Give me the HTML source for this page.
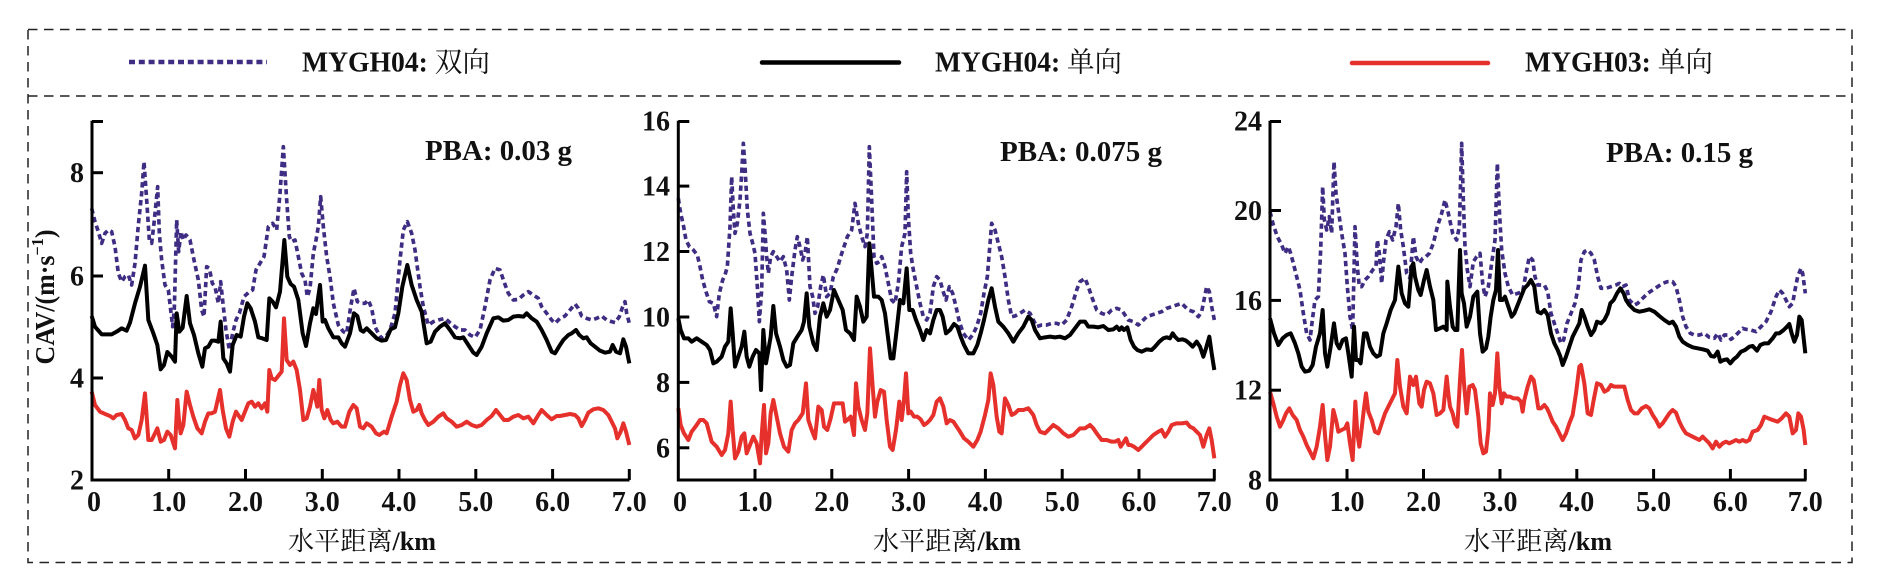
<!DOCTYPE html>
<html>
<head>
<meta charset="utf-8">
<style>
  html, body { margin: 0; padding: 0; background: #fff; }
  svg { display: block; }
  .tick { font-family: "Liberation Serif", serif; font-weight: bold; font-size: 28px; fill: #111; }
</style>
</head>
<body>
<svg width="1891" height="586" viewBox="0 0 1891 586" xmlns="http://www.w3.org/2000/svg">
  <rect x="0" y="0" width="1891" height="586" fill="#fff"/>

  <!-- Dashed frame -->
  <g stroke="#222" stroke-width="1.5" fill="none" stroke-dasharray="9.5 6.5">
    <rect x="28" y="29.5" width="1824" height="533"/>
    <line x1="28" y1="96" x2="1852" y2="96"/>
  </g>

  <!-- Legend -->
  <line x1="129" y1="62" x2="267" y2="62" stroke="#3f2d84" stroke-width="4.5" stroke-dasharray="6 3.8"/>
  <text x="302" y="71.7" textLength="188" lengthAdjust="spacingAndGlyphs" font-size="28" fill="#111"><tspan font-family="Liberation Serif, serif" font-weight="bold">MYGH04: </tspan><tspan font-family="Noto Serif CJK SC, Noto Sans CJK SC, serif">双向</tspan></text>

  <line x1="762" y1="62.5" x2="899" y2="62.5" stroke="#000" stroke-width="4.5" stroke-linecap="round"/>
  <text x="935" y="71.7" textLength="187" lengthAdjust="spacingAndGlyphs" font-size="28" fill="#111"><tspan font-family="Liberation Serif, serif" font-weight="bold">MYGH04: </tspan><tspan font-family="Noto Serif CJK SC, Noto Sans CJK SC, serif">单向</tspan></text>

  <line x1="1352" y1="63" x2="1488" y2="63" stroke="#e5302c" stroke-width="4.5" stroke-linecap="round"/>
  <text x="1525" y="71.7" textLength="188" lengthAdjust="spacingAndGlyphs" font-size="28" fill="#111"><tspan font-family="Liberation Serif, serif" font-weight="bold">MYGH03: </tspan><tspan font-family="Noto Serif CJK SC, Noto Sans CJK SC, serif">单向</tspan></text>

  <!-- Y axis label -->
  <text transform="translate(54,297) rotate(-90)" text-anchor="middle" font-family="Liberation Serif, serif" font-weight="bold" font-size="27" fill="#111" textLength="135" lengthAdjust="spacingAndGlyphs">CAV/(m·s<tspan font-size="17" dy="-11">−1</tspan><tspan dy="11">)</tspan></text>

  <!-- ================= PANEL 1 ================= -->
  <g transform="translate(80,100) scale(0.333333)" fill="none" stroke-linejoin="round">
    <polyline stroke="#3f2d84" stroke-width="11" stroke-dasharray="16 11" points="35,325 45,365 55,395 65,430 75,400 85,390 95,395 105,440 115,520 125,545 135,530 145,525 155,555 165,490 175,375 185,280 192,185 200,300 208,420 215,430 222,370 228,310 233,260 238,400 245,480 255,555 265,570 272,630 278,680 283,625 290,360 296,455 303,395 310,420 318,405 330,420 342,480 355,540 365,630 372,650 380,500 388,505 397,550 405,560 415,610 422,545 430,620 438,690 448,750 458,700 468,660 478,640 492,590 505,578 518,570 528,510 540,490 552,470 565,380 578,370 590,390 600,280 610,140 620,300 628,410 635,425 645,420 655,470 665,520 675,540 682,590 690,565 700,460 708,420 715,380 722,290 730,380 740,470 750,530 760,610 775,675 790,695 800,700 812,620 822,565 832,605 842,610 855,610 865,600 875,625 885,680 895,700 905,715 918,710 930,690 945,640 960,480 970,390 982,365 995,400 1005,450 1020,560 1030,620 1045,675 1060,665 1075,660 1095,655 1110,668 1125,680 1140,690 1155,690 1170,705 1185,712 1200,690 1215,620 1230,540 1245,505 1260,510 1272,545 1285,580 1300,600 1315,598 1330,585 1345,575 1360,585 1375,595 1385,620 1400,640 1415,660 1425,670 1440,655 1455,648 1470,630 1485,612 1495,625 1505,648 1520,655 1535,660 1550,655 1565,648 1580,660 1595,665 1605,668 1618,650 1628,620 1635,605 1640,640 1648,670"/>
    <polyline stroke="#000" stroke-width="12" points="35,648 45,680 65,703 95,703 110,695 125,685 140,692 150,668 165,610 180,560 195,497 205,660 220,700 232,735 242,808 252,795 262,756 275,770 285,785 290,640 298,695 308,683 320,588 330,670 342,705 355,760 367,800 375,745 385,740 395,722 405,722 415,725 422,665 430,775 440,790 450,815 458,735 470,705 482,710 492,650 502,610 512,625 525,665 535,712 547,715 560,720 568,595 578,605 588,622 600,575 613,420 622,530 632,552 642,560 655,600 668,700 678,738 690,670 700,625 708,642 712,610 720,555 728,665 735,660 745,685 760,712 775,712 785,730 795,740 810,700 822,640 832,648 842,690 850,695 860,685 875,700 890,715 905,722 918,720 932,688 945,682 955,640 967,560 982,495 995,555 1010,600 1025,635 1040,730 1052,725 1065,695 1080,680 1095,670 1110,690 1125,712 1140,715 1150,712 1165,735 1180,758 1190,765 1205,740 1220,700 1240,655 1255,652 1270,662 1285,660 1300,650 1315,648 1330,650 1340,640 1355,655 1370,665 1385,690 1400,720 1415,755 1425,760 1440,735 1450,720 1465,705 1475,700 1488,690 1498,705 1510,715 1520,712 1532,730 1545,740 1560,752 1575,758 1590,755 1598,735 1608,755 1620,760 1630,718 1638,740 1648,790"/>
    <polyline stroke="#e5302c" stroke-width="12" points="35,875 45,915 60,935 75,942 90,948 100,955 110,945 125,942 135,960 145,985 155,990 165,1015 175,1005 185,960 195,880 200,950 205,1020 215,1020 225,1000 232,985 242,1025 252,1020 262,995 272,1005 285,1045 292,900 297,960 302,1000 310,975 320,875 330,915 340,950 352,985 365,1000 375,965 385,940 395,940 405,935 420,870 428,930 438,985 448,1010 458,965 468,935 478,950 485,960 495,935 505,910 515,905 525,920 535,910 545,925 555,910 562,935 568,810 575,835 585,840 597,825 605,815 612,655 620,780 630,795 640,785 650,810 660,870 670,960 680,955 690,920 700,870 705,890 712,920 718,840 725,930 733,955 742,930 752,960 760,970 772,965 785,980 795,980 808,935 820,915 830,925 840,980 850,985 860,970 875,980 888,1000 898,1005 912,995 920,1000 935,950 950,905 960,855 970,820 980,840 990,900 1000,935 1010,930 1018,915 1025,940 1035,960 1045,975 1060,965 1075,950 1090,940 1100,955 1115,965 1130,980 1145,975 1160,965 1175,975 1190,980 1205,975 1220,960 1235,948 1248,930 1260,945 1272,960 1285,960 1300,950 1315,945 1330,955 1345,950 1360,970 1375,945 1385,930 1400,945 1415,958 1430,948 1440,948 1455,945 1470,942 1485,945 1495,955 1505,978 1515,960 1525,938 1540,928 1555,925 1570,930 1585,945 1595,965 1605,985 1612,1015 1622,995 1630,970 1638,995 1648,1035"/>
  </g>
  <g stroke="#000" stroke-width="3" fill="none">
    <polyline points="92,120.7 92,480 629.5,480"/>
    <line x1="92" y1="121.5" x2="103" y2="121.5"/>
    <line x1="92" y1="172.7" x2="103" y2="172.7"/>
    <line x1="92" y1="276" x2="103" y2="276"/>
    <line x1="92" y1="378" x2="103" y2="378"/>
    <line x1="168.7" y1="480" x2="168.7" y2="469"/>
    <line x1="245.5" y1="480" x2="245.5" y2="469"/>
    <line x1="322.3" y1="480" x2="322.3" y2="469"/>
    <line x1="399" y1="480" x2="399" y2="469"/>
    <line x1="475.8" y1="480" x2="475.8" y2="469"/>
    <line x1="552.6" y1="480" x2="552.6" y2="469"/>
    <line x1="629.3" y1="480" x2="629.3" y2="469"/>
  </g>
  <g class="tick" text-anchor="end">
    <text x="84" y="182.2">8</text>
    <text x="84" y="285.5">6</text>
    <text x="84" y="387.5">4</text>
    <text x="84" y="489.5">2</text>
  </g>
  <g class="tick" text-anchor="middle">
    <text x="94" y="511">0</text>
    <text x="168.7" y="511">1.0</text>
    <text x="245.5" y="511">2.0</text>
    <text x="322.3" y="511">3.0</text>
    <text x="399" y="511">4.0</text>
    <text x="475.8" y="511">5.0</text>
    <text x="552.6" y="511">6.0</text>
    <text x="629.3" y="511">7.0</text>
  </g>
  <text x="425" y="160" textLength="147" lengthAdjust="spacingAndGlyphs" font-family="Liberation Serif, serif" font-weight="bold" font-size="29" fill="#111">PBA: 0.03 g</text>
  <text x="362" y="550" text-anchor="middle" font-size="26" fill="#111" textLength="148" lengthAdjust="spacingAndGlyphs"><tspan font-family="Noto Serif CJK SC, Noto Sans CJK SC, serif">水平距离</tspan><tspan font-family="Liberation Serif, serif" font-weight="bold">/km</tspan></text>

  <!-- ================= PANEL 2 ================= -->
  <g transform="translate(560,100) scale(0.333333)" fill="none" stroke-linejoin="round">
    <polyline stroke="#3f2d84" stroke-width="11" stroke-dasharray="16 11" points="355,295 362,340 370,375 378,420 388,440 400,450 412,465 420,500 428,540 438,575 448,605 460,610 470,650 478,580 488,540 495,525 502,500 510,380 515,230 520,330 525,400 532,370 540,300 545,220 550,130 555,200 562,330 570,400 578,430 585,460 592,560 598,665 605,570 610,340 615,400 620,470 625,520 632,470 640,455 650,470 660,485 670,470 680,510 688,600 695,530 705,450 712,410 720,440 728,480 735,460 742,410 750,560 758,590 765,640 773,620 782,560 790,525 800,590 810,580 820,530 832,505 842,470 852,440 862,410 875,390 885,310 895,370 905,410 915,440 922,400 928,140 935,300 942,470 950,490 958,485 965,470 975,500 985,550 995,600 1005,610 1015,550 1025,440 1035,400 1040,215 1045,350 1052,460 1060,510 1070,560 1080,610 1090,650 1100,660 1110,640 1120,560 1130,530 1140,540 1148,570 1158,600 1168,560 1178,580 1188,620 1198,665 1210,700 1225,720 1238,705 1250,680 1262,640 1272,580 1282,530 1295,370 1305,390 1315,430 1325,470 1335,530 1345,600 1355,650 1365,648 1380,640 1395,630 1410,640 1420,660 1430,680 1445,675 1460,675 1475,670 1490,670 1505,675 1520,660 1535,620 1550,570 1560,545 1575,535 1585,560 1595,590 1610,630 1625,640 1640,645 1655,630 1670,625 1685,630 1695,645 1705,660 1720,665 1735,675 1745,665 1760,650 1775,645 1790,640 1805,635 1820,625 1835,620 1850,615 1865,610 1875,620 1885,630 1900,635 1915,650 1925,635 1932,600 1940,560 1948,575 1955,620 1963,660"/>
    <polyline stroke="#000" stroke-width="12" points="355,655 362,690 372,715 385,715 395,725 410,715 425,725 440,735 450,750 460,790 470,785 485,770 495,740 505,725 512,625 518,700 525,800 535,770 545,740 553,695 560,770 568,800 578,770 588,750 598,760 603,870 610,690 618,790 625,750 632,710 640,618 648,700 660,740 670,780 680,800 690,795 700,730 712,710 725,690 732,665 740,580 748,680 760,730 770,750 780,650 790,610 800,650 810,630 822,570 835,600 848,630 858,690 870,700 882,720 890,590 900,620 910,665 920,650 928,430 935,510 942,590 955,590 965,600 975,640 985,720 992,775 1000,775 1010,690 1020,600 1030,610 1040,505 1048,630 1058,630 1068,660 1080,690 1090,720 1100,690 1110,700 1120,660 1130,630 1140,630 1148,650 1158,700 1170,690 1182,672 1192,680 1202,710 1212,735 1225,760 1240,760 1252,735 1262,700 1272,660 1285,600 1295,565 1305,620 1315,665 1330,680 1345,700 1360,725 1375,700 1390,680 1405,650 1415,660 1425,690 1440,715 1455,712 1470,710 1485,712 1500,710 1515,715 1530,705 1545,685 1560,665 1575,665 1585,680 1600,680 1615,682 1630,678 1645,690 1660,688 1670,680 1678,690 1685,682 1692,690 1702,682 1712,720 1722,740 1732,750 1745,755 1760,748 1775,750 1785,740 1798,725 1810,715 1820,712 1830,715 1838,700 1845,710 1855,720 1868,718 1878,722 1888,730 1898,740 1910,725 1920,740 1930,770 1938,745 1948,710 1955,760 1963,810"/>
    <polyline stroke="#e5302c" stroke-width="12" points="355,925 362,975 372,1000 385,1020 395,995 410,975 420,960 430,960 440,970 455,1025 470,1040 485,1065 495,1050 505,1000 512,905 518,990 525,1075 535,1055 545,1010 553,1000 560,1060 570,1035 580,1010 590,1030 600,1090 605,1005 612,915 618,1060 625,1030 632,940 640,900 648,940 660,1000 672,1040 685,1055 695,990 705,970 715,960 728,940 738,850 745,960 755,990 765,1015 775,920 785,930 792,980 802,990 812,955 822,910 835,910 848,910 855,965 862,960 872,950 882,1005 888,850 895,920 905,960 915,990 922,940 930,745 938,860 945,950 952,905 962,870 972,875 980,960 990,1040 998,1050 1008,990 1018,905 1025,960 1032,900 1038,820 1045,940 1052,935 1062,950 1072,950 1082,958 1092,975 1100,970 1110,960 1120,945 1130,905 1140,895 1150,920 1160,970 1170,960 1180,965 1190,980 1200,995 1212,1015 1225,1025 1240,1040 1252,1020 1262,995 1275,945 1285,900 1292,820 1300,855 1310,950 1318,995 1325,1000 1335,895 1345,915 1355,945 1365,940 1375,930 1390,930 1405,925 1420,945 1430,975 1440,995 1455,1000 1470,985 1480,975 1495,985 1510,1000 1525,1010 1540,1005 1560,985 1575,985 1590,975 1600,985 1610,1000 1625,1020 1640,1020 1655,1025 1665,1025 1675,1020 1682,1040 1692,1025 1698,1015 1705,1035 1712,1035 1722,1040 1735,1050 1745,1040 1755,1030 1765,1020 1780,1005 1795,995 1805,990 1815,1010 1825,995 1835,975 1850,970 1865,970 1880,968 1890,980 1900,985 1910,995 1920,1005 1930,1040 1940,1005 1948,985 1955,1020 1963,1075"/>
  </g>
  <g stroke="#000" stroke-width="3" fill="none">
    <polyline points="678.3,120.7 678.3,480 1215.5,480"/>
    <line x1="678.3" y1="121.5" x2="689.3" y2="121.5"/>
    <line x1="678.3" y1="186.1" x2="689.3" y2="186.1"/>
    <line x1="678.3" y1="251.5" x2="689.3" y2="251.5"/>
    <line x1="678.3" y1="317" x2="689.3" y2="317"/>
    <line x1="678.3" y1="382.4" x2="689.3" y2="382.4"/>
    <line x1="678.3" y1="447.8" x2="689.3" y2="447.8"/>
    <line x1="755" y1="480" x2="755" y2="469"/>
    <line x1="831.8" y1="480" x2="831.8" y2="469"/>
    <line x1="908.6" y1="480" x2="908.6" y2="469"/>
    <line x1="985.4" y1="480" x2="985.4" y2="469"/>
    <line x1="1062.2" y1="480" x2="1062.2" y2="469"/>
    <line x1="1139" y1="480" x2="1139" y2="469"/>
    <line x1="1214.3" y1="480" x2="1214.3" y2="469"/>
  </g>
  <g class="tick" text-anchor="end">
    <text x="670" y="130.5">16</text>
    <text x="670" y="195.6">14</text>
    <text x="670" y="261">12</text>
    <text x="670" y="326.5">10</text>
    <text x="670" y="391.9">8</text>
    <text x="670" y="457.3">6</text>
  </g>
  <g class="tick" text-anchor="middle">
    <text x="680" y="511">0</text>
    <text x="755" y="511">1.0</text>
    <text x="831.8" y="511">2.0</text>
    <text x="908.6" y="511">3.0</text>
    <text x="985.4" y="511">4.0</text>
    <text x="1062.2" y="511">5.0</text>
    <text x="1139" y="511">6.0</text>
    <text x="1214.3" y="511">7.0</text>
  </g>
  <text x="1000" y="161" textLength="162" lengthAdjust="spacingAndGlyphs" font-family="Liberation Serif, serif" font-weight="bold" font-size="29" fill="#111">PBA: 0.075 g</text>
  <text x="947" y="550" text-anchor="middle" font-size="26" fill="#111" textLength="148" lengthAdjust="spacingAndGlyphs"><tspan font-family="Noto Serif CJK SC, Noto Sans CJK SC, serif">水平距离</tspan><tspan font-family="Liberation Serif, serif" font-weight="bold">/km</tspan></text>

  <!-- ================= PANEL 3 ================= -->
  <g transform="translate(1000,100) scale(0.333333)" fill="none" stroke-linejoin="round">
    <polyline stroke="#3f2d84" stroke-width="11" stroke-dasharray="16 11" points="810,335 820,375 832,410 845,435 855,460 865,440 872,460 880,490 890,530 900,570 910,640 920,700 930,720 937,660 945,600 955,590 962,450 968,260 973,360 980,390 988,350 995,400 1002,185 1008,280 1015,330 1025,400 1035,460 1042,560 1050,650 1058,690 1065,380 1072,500 1078,560 1085,560 1095,540 1105,530 1118,510 1128,500 1132,420 1138,460 1145,550 1150,490 1158,420 1168,395 1178,420 1188,380 1195,310 1202,390 1210,440 1220,520 1230,535 1240,410 1248,470 1258,490 1268,475 1278,470 1288,460 1300,430 1312,380 1325,340 1335,300 1345,340 1358,400 1370,420 1378,380 1385,130 1390,300 1395,440 1402,510 1410,560 1420,485 1430,470 1440,460 1448,550 1455,590 1465,560 1475,490 1485,420 1492,190 1498,330 1505,450 1515,520 1525,560 1538,585 1553,580 1568,575 1578,520 1588,470 1598,480 1605,530 1613,555 1623,555 1633,555 1643,575 1653,640 1663,670 1673,700 1683,730 1691,720 1701,670 1713,640 1725,610 1735,560 1743,480 1753,455 1763,450 1773,460 1783,480 1793,530 1803,565 1818,565 1833,560 1848,555 1858,550 1868,560 1878,555 1888,600 1903,615 1913,610 1928,595 1943,580 1958,570 1973,560 1988,550 2003,545 2018,545 2028,560 2038,600 2048,650 2058,680 2071,700 2083,705 2098,705 2113,700 2128,712 2143,715 2153,700 2163,720 2173,705 2183,705 2193,718 2203,710 2213,700 2228,685 2238,688 2253,690 2268,695 2283,680 2298,665 2313,635 2328,590 2338,570 2348,580 2358,600 2368,620 2378,610 2385,570 2393,530 2403,505 2408,520 2416,580"/>
    <polyline stroke="#000" stroke-width="12" points="810,655 822,700 835,735 848,715 860,705 872,700 885,730 895,760 905,800 915,815 928,812 938,795 948,740 960,700 968,630 975,760 982,800 992,740 1002,670 1010,730 1018,745 1028,720 1038,715 1045,760 1055,830 1062,680 1068,780 1075,780 1082,790 1092,700 1100,700 1110,740 1120,760 1130,770 1140,765 1150,700 1160,670 1172,630 1185,600 1195,500 1205,580 1215,610 1225,620 1235,500 1240,490 1245,530 1255,570 1262,585 1272,540 1280,510 1290,560 1300,600 1308,690 1320,685 1330,680 1340,690 1342,545 1350,620 1358,680 1365,690 1372,690 1380,450 1385,580 1392,610 1400,680 1410,650 1420,590 1432,575 1440,700 1448,755 1458,745 1465,710 1472,650 1480,600 1488,570 1494,450 1500,600 1508,600 1515,590 1525,620 1535,650 1543,640 1553,615 1563,590 1573,565 1583,555 1593,540 1603,560 1608,600 1613,635 1623,640 1633,630 1643,645 1653,700 1663,730 1673,750 1681,770 1688,795 1698,770 1708,740 1718,710 1728,690 1738,670 1745,630 1753,650 1763,680 1773,705 1783,690 1791,665 1803,670 1813,660 1823,640 1831,610 1841,600 1851,580 1861,565 1871,580 1878,600 1888,615 1903,630 1918,635 1933,632 1948,628 1963,635 1978,648 1993,660 2008,670 2018,665 2028,680 2038,710 2048,725 2063,735 2078,742 2093,745 2108,748 2123,752 2133,768 2143,770 2153,755 2161,785 2171,780 2181,778 2191,790 2201,778 2211,770 2223,755 2235,750 2248,740 2258,738 2271,752 2281,735 2293,730 2305,730 2318,715 2328,700 2338,700 2351,690 2361,680 2368,672 2375,700 2383,725 2391,705 2398,650 2405,660 2411,715 2416,760"/>
    <polyline stroke="#e5302c" stroke-width="12" points="810,875 820,910 830,950 840,980 850,960 858,940 868,925 878,945 890,960 900,990 910,1010 920,1035 930,1055 940,1075 950,1040 960,980 968,915 975,1005 982,1080 990,1040 1000,930 1008,960 1015,995 1025,990 1035,985 1042,970 1050,1030 1058,1080 1066,905 1072,1000 1078,1040 1085,985 1092,925 1098,880 1105,935 1115,960 1125,995 1135,1000 1145,970 1155,940 1165,920 1175,900 1185,880 1192,780 1200,860 1210,920 1220,940 1230,830 1240,855 1248,830 1258,910 1265,920 1272,870 1280,845 1290,850 1300,880 1310,945 1320,940 1330,930 1340,830 1345,880 1350,920 1358,940 1365,970 1372,980 1380,840 1386,750 1392,850 1400,940 1408,860 1418,855 1425,870 1435,950 1442,1030 1450,1060 1458,1055 1465,990 1470,880 1478,915 1485,880 1492,760 1498,860 1505,910 1512,880 1520,890 1530,890 1540,895 1553,895 1563,905 1568,935 1573,900 1583,860 1593,830 1601,840 1608,880 1615,925 1623,925 1633,915 1641,925 1648,940 1658,965 1668,980 1678,1000 1688,1020 1698,1000 1708,970 1718,945 1728,880 1738,800 1743,795 1753,850 1763,940 1773,945 1781,900 1791,850 1803,855 1813,875 1823,870 1833,855 1843,860 1858,860 1873,860 1883,900 1893,930 1903,940 1913,940 1925,925 1938,918 1948,925 1958,945 1968,960 1978,980 1988,970 1998,955 2008,940 2018,930 2028,938 2038,965 2048,985 2058,1000 2068,1005 2078,1010 2088,1015 2098,1020 2108,1010 2118,1020 2128,1030 2138,1045 2148,1025 2158,1040 2168,1030 2178,1025 2188,1030 2198,1025 2208,1020 2218,1025 2228,1020 2238,1025 2248,1020 2258,995 2273,990 2283,975 2293,950 2305,955 2318,960 2333,965 2345,955 2358,940 2368,950 2378,1000 2388,990 2395,940 2403,950 2411,990 2416,1035"/>
  </g>
  <g stroke="#000" stroke-width="3" fill="none">
    <polyline points="1270,120.7 1270,480 1806.5,480"/>
    <line x1="1270" y1="121.5" x2="1281" y2="121.5"/>
    <line x1="1270" y1="210.5" x2="1281" y2="210.5"/>
    <line x1="1270" y1="300.4" x2="1281" y2="300.4"/>
    <line x1="1270" y1="390.2" x2="1281" y2="390.2"/>
    <line x1="1347" y1="480" x2="1347" y2="469"/>
    <line x1="1423.5" y1="480" x2="1423.5" y2="469"/>
    <line x1="1500" y1="480" x2="1500" y2="469"/>
    <line x1="1576.8" y1="480" x2="1576.8" y2="469"/>
    <line x1="1653.6" y1="480" x2="1653.6" y2="469"/>
    <line x1="1730.4" y1="480" x2="1730.4" y2="469"/>
    <line x1="1805.3" y1="480" x2="1805.3" y2="469"/>
  </g>
  <g class="tick" text-anchor="end">
    <text x="1262" y="130.5">24</text>
    <text x="1262" y="220">20</text>
    <text x="1262" y="310">16</text>
    <text x="1262" y="399.7">12</text>
    <text x="1262" y="489.5">8</text>
  </g>
  <g class="tick" text-anchor="middle">
    <text x="1272" y="511">0</text>
    <text x="1347" y="511">1.0</text>
    <text x="1423.5" y="511">2.0</text>
    <text x="1500" y="511">3.0</text>
    <text x="1576.8" y="511">4.0</text>
    <text x="1653.6" y="511">5.0</text>
    <text x="1730.4" y="511">6.0</text>
    <text x="1805.3" y="511">7.0</text>
  </g>
  <text x="1606" y="162" textLength="147" lengthAdjust="spacingAndGlyphs" font-family="Liberation Serif, serif" font-weight="bold" font-size="29" fill="#111">PBA: 0.15 g</text>
  <text x="1538" y="550" text-anchor="middle" font-size="26" fill="#111" textLength="148" lengthAdjust="spacingAndGlyphs"><tspan font-family="Noto Serif CJK SC, Noto Sans CJK SC, serif">水平距离</tspan><tspan font-family="Liberation Serif, serif" font-weight="bold">/km</tspan></text>
</svg>
</body>
</html>
